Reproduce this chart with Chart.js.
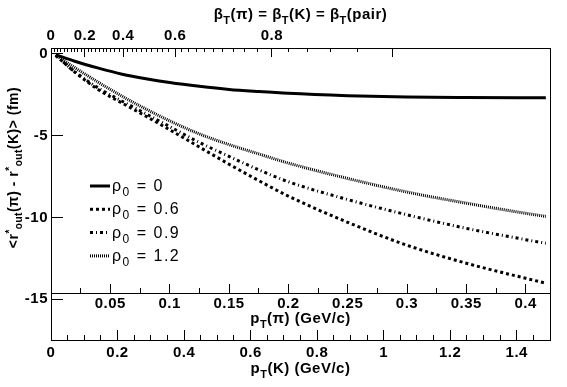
<!DOCTYPE html>
<html>
<head>
<meta charset="utf-8">
<script src="https://cdn.jsdelivr.net/npm/chart.js@4.4.1/dist/chart.umd.min.js"></script>
<style>
  html, body { margin: 0; padding: 0; background: #fff; }
</style>
</head>
<body>
<canvas id="hbtChart" width="567" height="387"></canvas>
<script>
const ptPion = [0.004, 0.02, 0.04, 0.06, 0.08, 0.1, 0.125, 0.15, 0.175, 0.2, 0.25, 0.3, 0.35, 0.4, 0.417];

// <r*out(pi) - r*out(K)> in fm, one list per rho0
const rho0_00 = [-0.06, -0.46, -0.88, -1.25, -1.53, -1.76, -1.99, -2.18, -2.31, -2.42, -2.56, -2.65, -2.68, -2.69, -2.69];
const rho0_06 = [-0.1, -1.12, -2.2, -3.02, -3.82, -4.65, -5.7, -6.75, -7.75, -8.7, -10.3, -11.7, -12.8, -13.72, -14.02];
const rho0_09 = [-0.1, -1.1, -2.1, -2.9, -3.67, -4.45, -5.42, -6.27, -7.09, -7.82, -8.91, -9.84, -10.67, -11.36, -11.58];
const rho0_12 = [-0.1, -0.85, -1.75, -2.6, -3.38, -4.1, -4.9, -5.55, -6.12, -6.68, -7.62, -8.45, -9.13, -9.75, -9.94];

const seriesLabels = ["ρ_{0} = 0", "ρ_{0} = 0.6", "ρ_{0} = 0.9", "ρ_{0} = 1.2"];

// tick labels
const yTicks = [0, -5, -10, -15];
const ptPionTicks = [0.05, 0.1, 0.15, 0.2, 0.25, 0.3, 0.35, 0.4];
const ptPionMinor = [0.025, 0.075, 0.125, 0.175, 0.225, 0.275, 0.325, 0.375];
const ptKaonTicks = [0, 0.2, 0.4, 0.6, 0.8, 1, 1.2, 1.4];
const ptKaonMinor = [0.05, 0.1, 0.15, 0.25, 0.3, 0.35, 0.45, 0.5, 0.55, 0.65, 0.7, 0.75, 0.85, 0.9, 0.95,
                     1.05, 1.1, 1.15, 1.25, 1.3, 1.35, 1.45];
const betaTicks = [0, 0.2, 0.4, 0.6, 0.8, 0.9];
const betaLabels = ["0", "0.2", "0.4", "0.6", "0.8", ""];
const betaMinor = [0.02, 0.04, 0.06, 0.08, 0.1, 0.12, 0.14, 0.16, 0.18, 0.22, 0.24, 0.26, 0.28, 0.3,
                   0.32, 0.34, 0.36, 0.38, 0.42, 0.44, 0.46, 0.48, 0.5, 0.52, 0.54, 0.56, 0.58, 0.62,
                   0.64, 0.66, 0.68, 0.7, 0.72, 0.74, 0.76, 0.78, 0.82, 0.84, 0.86, 0.88];

// axis ranges
const Y_MIN = -17.49, Y_MAX = 0.35;
const PI_MAX = 0.4205, K_MAX = 1.5;
const PI_AXIS_AT = -14.64;   // the pT(pi) axis sits inside the frame
const PION_MASS = 0.13957;

// beta_T -> pT of the pion
const ptFromBeta = b => PION_MASS * b / Math.sqrt(1 - b * b);

const FAMILY = '"Liberation Sans", Arial, Helvetica, sans-serif';
const tickFont = { family: FAMILY, size: 15, weight: 'bold' };

Chart.defaults.color = '#000';
Chart.defaults.font.family = FAMILY;

// small rich-text helper: _{sub} and ^{sup}
function parseRich(str) {
  const parts = [];
  const re = /([_^])\{([^}]*)\}|([^_^]+)/g;
  let m;
  while ((m = re.exec(str))) {
    if (m[1]) parts.push({ text: m[2], mode: m[1] === '_' ? 'sub' : 'sup' });
    else parts.push({ text: m[3], mode: 'base' });
  }
  return parts;
}

function drawRich(ctx, str, x, baseline, size, weight, align) {
  const parts = parseRich(str).map(p => {
    const s = p.mode === 'base' ? size : Math.round(size * 0.72);
    const font = `${weight} ${s}px ${FAMILY}`;
    ctx.font = font;
    return Object.assign(p, { font, w: ctx.measureText(p.text).width });
  });
  const total = parts.reduce((t, p) => t + p.w, 0);
  let px = align === 'left' ? x : x - total / 2;
  ctx.textAlign = 'left';
  ctx.textBaseline = 'alphabetic';
  for (const p of parts) {
    ctx.font = p.font;
    const dy = p.mode === 'sub' ? size * 0.32 : p.mode === 'sup' ? -size * 0.38 : 0;
    ctx.fillText(p.text, px, baseline + dy);
    px += p.w;
  }
}

const annotate = {
  id: 'annotate',
  beforeDraw(chart) {
    chart.ctx.letterSpacing = '0.5px';
  },
  afterDraw(chart) {
    const { ctx, chartArea: a, scales } = chart;
    const cx = (a.left + a.right) / 2;
    ctx.save();
    ctx.fillStyle = '#000';
    ctx.letterSpacing = '0.5px';

    drawRich(ctx, 'β_{T}(π) = β_{T}(K) = β_{T}(pair)', cx, 19, 15, 'bold');
    const piAxisY = scales.y.getPixelForValue(PI_AXIS_AT);
    drawRich(ctx, 'p_{T}(π) (GeV/c)', cx, piAxisY + 30, 15, 'bold');
    drawRich(ctx, 'p_{T}(K) (GeV/c)', cx, a.bottom + 33, 15, 'bold');

    // y title, rotated
    ctx.save();
    ctx.translate(18, 167.5);
    ctx.rotate(-Math.PI / 2);
    drawRich(ctx, '<r^{*}_{out}(π) - r^{*}_{out}(K)> (fm)', 0, 0, 14, 'bold');
    ctx.restore();

    // legend inside the frame
    ctx.letterSpacing = '1.5px';
    chart.data.datasets.forEach((ds, i) => {
      const ly = a.top + 138 + i * 23.3;
      const lx = a.left + 39;
      ctx.save();
      ctx.strokeStyle = ds.borderColor;
      ctx.lineWidth = ds.borderWidth;
      ctx.setLineDash(ds.borderDash || []);
      ctx.beginPath();
      ctx.moveTo(lx, ly);
      ctx.lineTo(lx + 20, ly);
      ctx.stroke();
      ctx.restore();
      drawRich(ctx, ds.label, lx + 22, ly + 5, 16, 'normal', 'left');
    });
    ctx.restore();
  }
};

const toPoints = ys => ptPion.map((x, i) => ({ x, y: ys[i] }));

const lineStyle = (label, ys, dash) => ({
  label,
  data: toPoints(ys),
  borderColor: '#000',
  borderWidth: 3,
  borderDash: dash,
  fill: false,
  pointRadius: 0,
  cubicInterpolationMode: 'monotone'
});

const noGridArea = { drawOnChartArea: false, tickColor: '#000', tickWidth: 1 };

new Chart(document.getElementById('hbtChart').getContext('2d'), {
  type: 'line',
  data: {
    datasets: [
      lineStyle(seriesLabels[0], rho0_00, []),
      lineStyle(seriesLabels[1], rho0_06, [3, 3]),
      lineStyle(seriesLabels[2], rho0_09, [3, 3, 1, 3]),
      lineStyle(seriesLabels[3], rho0_12, [1, 1])
    ]
  },
  options: {
    responsive: false,
    animation: false,
    layout: { padding: { left: 0, right: 17, top: 0, bottom: 0 } },
    plugins: {
      legend: { display: false },
      tooltip: { enabled: false }
    },
    scales: {
      x: {
        type: 'linear', min: 0, max: PI_MAX,
        position: { y: PI_AXIS_AT },
        afterBuildTicks: s => { s.ticks = ptPionTicks.map(v => ({ value: v })); },
        grid: { ...noGridArea, tickLength: -10 },
        border: { color: '#000', width: 1 },
        ticks: { autoSkip: false, maxRotation: 0, font: tickFont, padding: 12, callback: v => String(v) }
      },
      xMinor: {
        type: 'linear', min: 0, max: PI_MAX,
        position: { y: PI_AXIS_AT },
        afterBuildTicks: s => { s.ticks = ptPionMinor.map(v => ({ value: v })); },
        grid: { ...noGridArea, tickLength: -5 },
        border: { display: false },
        ticks: { display: false, autoSkip: false }
      },
      xK: {
        type: 'linear', min: 0, max: K_MAX,
        position: 'bottom',
        afterBuildTicks: s => { s.ticks = ptKaonTicks.map(v => ({ value: v })); },
        afterFit: s => { s.height = 47; },
        grid: { ...noGridArea, tickLength: -10 },
        border: { color: '#000', width: 1 },
        ticks: { autoSkip: false, maxRotation: 0, font: tickFont, padding: 14, callback: v => String(v) }
      },
      xKMinor: {
        type: 'linear', min: 0, max: K_MAX,
        position: { y: Y_MIN },
        afterBuildTicks: s => { s.ticks = ptKaonMinor.map(v => ({ value: v })); },
        grid: { ...noGridArea, tickLength: -5 },
        border: { display: false },
        ticks: { display: false, autoSkip: false }
      },
      xTop: {
        type: 'linear', min: 0, max: PI_MAX,
        position: 'top',
        afterBuildTicks: s => { s.ticks = betaTicks.map((b, i) => ({ value: ptFromBeta(b), text: betaLabels[i] })); },
        afterFit: s => { s.height = 48; },
        grid: { ...noGridArea, tickLength: -9 },
        border: { color: '#000', width: 1 },
        ticks: { autoSkip: false, maxRotation: 0, font: tickFont, padding: 12,
                 callback: (v, i, ticks) => ticks[i].text }
      },
      xTopMinor: {
        type: 'linear', min: 0, max: PI_MAX,
        position: { y: Y_MAX },
        afterBuildTicks: s => { s.ticks = betaMinor.map(b => ({ value: ptFromBeta(b) })); },
        grid: { ...noGridArea, tickLength: 4 },
        border: { display: false },
        ticks: { display: false, autoSkip: false }
      },
      y: {
        type: 'linear', min: Y_MIN, max: Y_MAX,
        position: 'left',
        afterBuildTicks: s => { s.ticks = yTicks.map(v => ({ value: v })); },
        afterFit: s => { s.width = 51; },
        grid: { ...noGridArea, tickLength: -12 },
        border: { color: '#000', width: 1 },
        ticks: { font: tickFont, padding: 15, callback: v => String(v) }
      },
      yRight: {
        type: 'linear', min: Y_MIN, max: Y_MAX,
        position: 'right',
        afterFit: s => { s.width = 0; },
        grid: { drawOnChartArea: false, drawTicks: false },
        border: { color: '#000', width: 1 },
        ticks: { display: false }
      }
    }
  },
  plugins: [annotate]
});
</script>
</body>
</html>
